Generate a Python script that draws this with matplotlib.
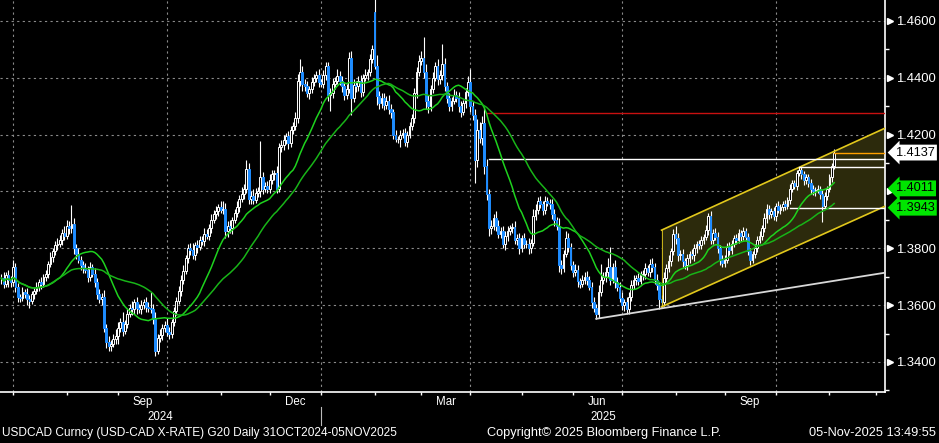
import numpy as np
import pandas as pd
import matplotlib
matplotlib.use('Agg')
import matplotlib.pyplot as plt
import matplotlib.transforms as mtransforms
from matplotlib.patches import Rectangle, Polygon
from matplotlib.ticker import MultipleLocator, FuncFormatter

plt.rcParams['font.family'] = ['Liberation Sans', 'DejaVu Sans']

start_date = '2024-06-24'

# daily USDCAD closes, one row per week
closes = [
    1.3695, 1.3675, 1.3705, 1.3690, 1.3680,
    1.3735, 1.3665, 1.3630, 1.3625, 1.3645,
    1.3640, 1.3620, 1.3615, 1.3640, 1.3650,
    1.3665, 1.3680, 1.3675, 1.3700, 1.3710,
    1.3745, 1.3770, 1.3790, 1.3810, 1.3815,
    1.3830, 1.3855, 1.3845, 1.3880, 1.3870,
    1.3885, 1.3800, 1.3780, 1.3760, 1.3740,
    1.3730, 1.3725, 1.3700, 1.3735, 1.3710,
    1.3680, 1.3640, 1.3620, 1.3630, 1.3520,
    1.3470, 1.3455, 1.3465, 1.3480, 1.3490,
    1.3520, 1.3540, 1.3510, 1.3535, 1.3570,
    1.3590, 1.3585, 1.3610, 1.3590, 1.3585,
    1.3600, 1.3610, 1.3595, 1.3590, 1.3585,
    1.3550, 1.3440, 1.3485, 1.3495, 1.3520,
    1.3530, 1.3505, 1.3500, 1.3540, 1.3580,
    1.3615, 1.3650, 1.3690, 1.3720, 1.3765,
    1.3800, 1.3795, 1.3775, 1.3810, 1.3805,
    1.3830, 1.3825, 1.3850, 1.3845, 1.3870,
    1.3900, 1.3920, 1.3930, 1.3945, 1.3935,
    1.3940, 1.3860, 1.3880, 1.3870, 1.3900,
    1.3925, 1.3945, 1.3975, 1.3990, 1.4010,
    1.4080, 1.3975, 1.3985, 1.3970, 1.3995,
    1.4000, 1.4050, 1.4010, 1.4020, 1.4010,
    1.4040, 1.4060, 1.4065, 1.4010, 1.4155,
    1.4165, 1.4180, 1.4195, 1.4170, 1.4215,
    1.4230, 1.4260, 1.4390, 1.4420, 1.4380,
    1.4370, 1.4345, 1.4360, 1.4385, 1.4400,
    1.4410, 1.4385, 1.4380, 1.4410, 1.4440,
    1.4340, 1.4345, 1.4380, 1.4390, 1.4405,
    1.4390, 1.4370, 1.4340, 1.4360, 1.4470,
    1.4330, 1.4375, 1.4370, 1.4390, 1.4350,
    1.4400, 1.4410, 1.4420, 1.4465, 1.4500,
    1.4440, 1.4335, 1.4310, 1.4330, 1.4305,
    1.4320, 1.4290, 1.4280, 1.4200, 1.4185,
    1.4185, 1.4200, 1.4205, 1.4175, 1.4200,
    1.4230, 1.4260, 1.4345, 1.4420, 1.4460,
    1.4470, 1.4420, 1.4320, 1.4300, 1.4360,
    1.4400, 1.4440, 1.4395, 1.4410, 1.4450,
    1.4370, 1.4330, 1.4300, 1.4320, 1.4340,
    1.4330, 1.4300, 1.4280, 1.4310, 1.4350,
    1.4385, 1.4300, 1.4270, 1.4110, 1.4215,
    1.4190, 1.4240, 1.4090, 1.3990, 1.3870,
    1.3880, 1.3905, 1.3880, 1.3850, 1.3860,
    1.3815, 1.3845, 1.3860, 1.3870, 1.3875,
    1.3830, 1.3835, 1.3800, 1.3835, 1.3815,
    1.3815, 1.3800, 1.3820, 1.3915, 1.3935,
    1.3965, 1.3955, 1.3935, 1.3965, 1.3960,
    1.3955, 1.3920, 1.3900, 1.3880, 1.3740,
    1.3730, 1.3780, 1.3835, 1.3805, 1.3740,
    1.3715, 1.3725, 1.3685, 1.3675, 1.3690,
    1.3700, 1.3690, 1.3665, 1.3610, 1.3590,
    1.3570, 1.3645, 1.3690, 1.3700, 1.3715,
    1.3735, 1.3690, 1.3735, 1.3680, 1.3665,
    1.3625, 1.3600, 1.3610, 1.3585, 1.3630,
    1.3670, 1.3690, 1.3695, 1.3685, 1.3705,
    1.3710, 1.3730, 1.3715, 1.3745, 1.3735,
    1.3690, 1.3670, 1.3620, 1.3610, 1.3695,
    1.3730, 1.3755, 1.3790, 1.3850, 1.3835,
    1.3775, 1.3780, 1.3755, 1.3740, 1.3765,
    1.3780, 1.3775, 1.3800, 1.3815, 1.3810,
    1.3830, 1.3840, 1.3865, 1.3915, 1.3830,
    1.3855, 1.3840, 1.3800, 1.3760, 1.3750,
    1.3760, 1.3805, 1.3795, 1.3815, 1.3835,
    1.3830, 1.3855, 1.3845, 1.3860, 1.3840,
    1.3790, 1.3760, 1.3780, 1.3800, 1.3830,
    1.3845, 1.3870, 1.3905, 1.3940, 1.3920,
    1.3930, 1.3915, 1.3950, 1.3935, 1.3945,
    1.3955, 1.3950, 1.3970, 1.4010, 1.4030,
    1.4020, 1.4065, 1.4075, 1.4060, 1.4040,
    1.4050, 1.4030, 1.4010, 1.4000, 1.4005,
    1.4010, 1.3990, 1.3950, 1.3985, 1.4010,
    1.4050, 1.4090, 1.4137,
]

# upper / lower shadows beyond the candle body, in pips
wick_up = [
    15, 20, 10, 18, 12, 25, 15, 12, 10, 18, 12, 20, 15, 10, 14, 15, 12, 20, 10, 15,
    12, 18, 10, 15, 20, 18, 12, 25, 20, 15, 68, 20, 15, 22, 12, 15, 20, 12, 18, 10,
    20, 15, 18, 12, 25, 15, 20, 12, 18, 25, 20, 15, 35, 12, 18, 15, 25, 12, 20, 15,
    18, 12, 20, 15, 55, 20, 25, 15, 20, 12, 15, 25, 18, 12, 15, 12, 18, 15, 20, 12,
    15, 20, 25, 12, 18, 15, 12, 20, 18, 15, 20, 15, 18, 12, 20, 25, 20, 15, 18, 12,
    15, 20, 12, 25, 15, 30, 20, 15, 25, 18, 15, 128, 20, 15, 18, 20, 15, 12, 25, 15,
    15, 20, 12, 18, 15, 15, 20, 25, 47, 20, 15, 20, 12, 18, 15, 15, 20, 12, 18, 15,
    15, 20, 18, 12, 25, 20, 15, 12, 18, 20, 25, 20, 15, 18, 20, 15, 20, 12, 18, 15,
    163, 40, 20, 15, 18, 15, 20, 18, 12, 15, 12, 18, 15, 20, 12, 15, 12, 20, 18, 20,
    25, 75, 30, 20, 15, 20, 15, 25, 18, 70, 20, 15, 18, 12, 20, 15, 20, 18, 12, 15,
    20, 45, 18, 20, 40, 30, 25, 55, 25, 20, 20, 15, 25, 18, 15, 20, 15, 18, 12, 15,
    20, 15, 18, 12, 20, 15, 20, 12, 25, 20, 15, 20, 12, 18, 15, 15, 20, 18, 12, 25,
    20, 15, 25, 20, 15, 15, 20, 18, 12, 15, 15, 20, 12, 18, 20, 15, 25, 55, 18, 18,
    30, 70, 15, 25, 18, 15, 20, 12, 18, 15, 20, 15, 12, 18, 15, 15, 20, 12, 18, 20,
    15, 18, 12, 15, 20, 15, 20, 12, 18, 30, 20, 15, 18, 12, 15, 12, 18, 15, 12, 15,
    15, 12, 18, 10, 15, 12, 15, 18, 12, 15, 15, 12, 18, 15, 12, 15, 12, 10, 15, 12,
    15, 12, 10, 15, 12, 15, 12, 18, 15, 12, 12, 15, 10, 15, 12, 10, 15, 12, 15, 12,
    10, 12, 12, 15, 12, 10, 12, 15, 12, 10, 12, 10, 15, 12, 10, 12, 10, 13,
]
wick_dn = [
    20, 15, 12, 25, 15, 12, 18, 20, 15, 12, 15, 20, 25, 12, 18, 12, 15, 18, 12, 15,
    15, 12, 18, 12, 15, 12, 18, 15, 12, 20, 15, 20, 18, 12, 15, 18, 12, 20, 15, 12,
    15, 18, 12, 20, 15, 20, 15, 18, 12, 15, 25, 15, 20, 12, 15, 12, 18, 15, 20, 12,
    15, 12, 18, 15, 12, 15, 20, 12, 15, 18, 15, 12, 20, 15, 12, 15, 12, 18, 15, 12,
    15, 18, 12, 15, 20, 12, 15, 18, 12, 15, 15, 12, 18, 15, 12, 15, 25, 20, 15, 18,
    12, 15, 18, 12, 15, 15, 20, 18, 15, 12, 15, 18, 20, 12, 15, 15, 12, 18, 15, 12,
    15, 18, 12, 20, 15, 12, 15, 20, 18, 25, 15, 12, 18, 15, 12, 15, 18, 12, 15, 18,
    20, 55, 15, 18, 12, 15, 20, 18, 15, 12, 60, 15, 20, 15, 18, 15, 12, 18, 15, 12,
    10, 30, 20, 15, 18, 15, 18, 20, 15, 12, 15, 28, 12, 15, 18, 12, 15, 18, 15, 12,
    15, 20, 30, 25, 15, 15, 12, 20, 15, 18, 15, 20, 18, 15, 12, 15, 20, 18, 12, 15,
    15, 20, 18, 80, 25, 20, 25, 30, 20, 25, 18, 15, 20, 15, 12, 15, 20, 18, 12, 15,
    15, 18, 20, 12, 15, 15, 20, 18, 12, 15, 15, 12, 18, 15, 12, 15, 18, 20, 15, 25,
    20, 15, 12, 18, 15, 15, 12, 20, 15, 12, 15, 18, 12, 20, 15, 20, 15, 12, 15, 18,
    15, 20, 12, 18, 15, 15, 18, 20, 15, 15, 15, 12, 18, 15, 12, 15, 18, 12, 15, 20,
    15, 18, 32, 15, 12, 15, 12, 18, 15, 20, 18, 15, 20, 12, 15, 15, 12, 18, 15, 12,
    12, 15, 12, 18, 15, 15, 12, 18, 20, 15, 15, 12, 18, 15, 12, 15, 12, 18, 15, 12,
    15, 18, 12, 15, 12, 12, 15, 12, 15, 18, 12, 15, 18, 12, 15, 12, 15, 12, 15, 12,
    12, 15, 12, 15, 18, 12, 15, 18, 12, 15, 12, 15, 57, 12, 15, 12, 15, 10,
]

# weekend gap opens
gap_opens = {'2025-02-03': 1.4630}

fast_window = 20
slow_window = 40

# drawn studies
channel_upper = [('2025-07-24', 1.3864), ('2025-10-15', 1.4085)]
channel_lower = [('2025-07-24', 1.3594), ('2025-10-15', 1.3812)]
trend_line = [('2025-06-16', 1.3552), ('2025-10-15', 1.3666)]
levels = [('2025-04-10', 1.4277, '#c81010'),
          ('2025-04-11', 1.4115, 'white'),
          ('2025-10-15', 1.4087, 'white'),
          ('2025-10-09', 1.3943, 'white'),
          ('2025-11-05', 1.4137, '#ffa000')]

last_labels = [(1.4137, '1.4137', 'white'),
               (1.4011, '1.4011', '#00e600'),
               (1.3943, '1.3943', '#00e600')]
hidden_tick = 1.40  # covered by the 1.4011 box

month_labels = [('2024-09', 'Sep'), ('2024-12', 'Dec'), ('2025-03', 'Mar'),
                ('2025-06', 'Jun'), ('2025-09', 'Sep')]
footer_left = 'USDCAD Curncy (USD-CAD X-RATE) G20 Daily 31OCT2024-05NOV2025'
footer_mid = 'Copyright\u00a9 2025 Bloomberg Finance L.P.'
footer_right = '05-Nov-2025 13:49:55'


def pos(d):
    return float(np.busday_count(start_date, d))


dates = pd.bdate_range(start_date, periods=len(closes))
x = np.arange(len(closes))
c = np.array(closes)
o = np.concatenate([[c[0]], c[:-1]])
for d, v in gap_opens.items():
    o[int(pos(d))] = v
hi = np.maximum(o, c) + np.array(wick_up) / 10000
lo = np.minimum(o, c) - np.array(wick_dn) / 10000
ma_fast = pd.Series(c).rolling(fast_window, min_periods=1).mean()
ma_slow = pd.Series(c).rolling(slow_window, min_periods=1).mean()

x_left, x_right = -0.6, 378.8
y_bot, y_top = 1.32944, 1.46739

fig = plt.figure(figsize=(9.39, 4.43), dpi=100, facecolor='black')
ax = fig.add_axes([0, 1 - 392 / 443, 885 / 939, 392 / 443], facecolor='black')
ax.set_xlim(x_left, x_right)
ax.set_ylim(y_bot, y_top)

# grid
for v in np.arange(1.34, 1.4601, 0.02):
    ax.axhline(v, color='#8a8a8a', lw=0.8, ls=(0, (2, 3)), zorder=0)
for q in ['2024-07-01', '2024-10-01', '2025-01-01', '2025-04-01', '2025-07-01', '2025-10-01']:
    ax.axvline(pos(q), color='#8a8a8a', lw=0.8, ls=(0, (2, 3)), zorder=0)


def extend(pts):
    (d0, v0), (d1, v1) = pts
    x0, x1 = pos(d0), pos(d1)
    slope = (v1 - v0) / (x1 - x0)
    return x0, v0, x_right + 1, v0 + slope * (x_right + 1 - x0)


# channel
ux0, uy0, ux1, uy1 = extend(channel_upper)
lx0, ly0, lx1, ly1 = extend(channel_lower)
ax.add_patch(Polygon([[ux0, uy0], [ux1, uy1], [lx1, ly1], [lx0, ly0]], closed=True,
                     facecolor='#2c2a0c', edgecolor='none', zorder=1))
ax.plot([ux0, ux1], [uy0, uy1], color='#e2c81c', lw=1.2, zorder=4)
ax.plot([lx0, lx1], [ly0, ly1], color='#e2c81c', lw=1.2, zorder=4)
ax.plot([ux0, lx0], [uy0, ly0], color='#e2c81c', lw=0.6, zorder=4)

tx0, ty0, tx1, ty1 = extend(trend_line)
ax.plot([tx0, tx1], [ty0, ty1], color='#d8d8d8', lw=1.3, zorder=4)

for d, v, col in levels:
    ax.plot([pos(d), x_right + 1], [v, v], color=col, lw=1.0, zorder=4)

# candles
ax.vlines(x, lo, hi, color='white', lw=0.8, zorder=2)
w = 0.75
for i in range(len(c)):
    b0 = min(o[i], c[i])
    h = max(abs(c[i] - o[i]), 0.00008)
    if c[i] >= o[i]:
        ax.add_patch(Rectangle((x[i] - w / 2, b0), w, h, facecolor='black',
                               edgecolor='white', lw=0.7, zorder=3))
    else:
        ax.add_patch(Rectangle((x[i] - w / 2, b0), w, h, facecolor='#1e8cff',
                               edgecolor='#1e8cff', lw=0.7, zorder=3))

ax.plot(x, ma_fast, color='#1ed21e', lw=1.1, zorder=5)
ax.plot(x, ma_slow, color='#18b418', lw=1.1, zorder=5)

# axes styling
for s in ['top', 'left']:
    ax.spines[s].set_visible(False)
for s in ['right', 'bottom']:
    ax.spines[s].set_color('white')
    ax.spines[s].set_linewidth(1.2)

ax.yaxis.tick_right()
ax.yaxis.set_major_locator(MultipleLocator(0.02))
ax.yaxis.set_minor_locator(MultipleLocator(0.01))
ax.yaxis.set_major_formatter(FuncFormatter(
    lambda v, p: '' if abs(v - hidden_tick) < 1e-6 else f'{v:.4f}'))
ax.tick_params(axis='y', which='major', colors='white', labelsize=9.4, length=0, pad=8)
ax.tick_params(axis='y', which='minor', colors='white', length=3, width=1)

yt = mtransforms.blended_transform_factory(ax.transAxes, ax.transData)
major_vals = np.arange(1.34, 1.4601, 0.02)
ax.plot(np.full(len(major_vals), 1.006), major_vals, transform=yt, ls='none',
        marker='>', ms=4.5, color='white', clip_on=False, zorder=6)

month_starts = pd.date_range('2024-07-01', '2025-12-01', freq='MS')
ax.set_xticks([pos(m.strftime('%Y-%m-%d')) for m in month_starts])
ax.set_xticklabels([])
ax.tick_params(axis='x', colors='white', length=2.5, width=1)

trans = mtransforms.blended_transform_factory(ax.transData, ax.transAxes)
for m, lab in month_labels:
    m0 = pd.Timestamp(m + '-01')
    m1 = m0 + pd.offsets.MonthBegin(1)
    xc = (pos(m0.strftime('%Y-%m-%d')) + pos(m1.strftime('%Y-%m-%d'))) / 2
    ax.text(xc, -0.026, lab, transform=trans, color='white', fontsize=8.3,
            ha='center', va='center', clip_on=False)

x_jan = pos('2025-01-01')
ax.text((x_left + x_jan) / 2, -0.064, '2024', transform=trans, color='white',
        fontsize=8.3, ha='center', va='center', clip_on=False)
ax.text((x_jan + x_right) / 2, -0.064, '2025', transform=trans, color='white',
        fontsize=8.3, ha='center', va='center', clip_on=False)
ax.plot([x_jan, x_jan], [-0.038, -0.084], transform=trans, color='#bbbbbb', lw=0.8,
        clip_on=False)

# price boxes on the right axis
for v, txt, col in last_labels:
    ax.annotate(txt, xy=(1, v), xycoords=yt, xytext=(8, 0), textcoords='offset points',
                ha='left', va='center', fontsize=9.2, color='black',
                bbox=dict(boxstyle='larrow,pad=0.15', fc=col, ec='none'),
                annotation_clip=False, zorder=10)

fy = 1 - 433 / 443
fig.text(2 / 939, fy, footer_left, color='white', fontsize=8.6, ha='left', va='center')
fig.text(487 / 939, fy, footer_mid, color='white', fontsize=9.2, ha='left', va='center')
fig.text(936 / 939, fy, footer_right, color='white', fontsize=9.2, ha='right', va='center')

fig.savefig('out.png', dpi=100, facecolor='black')
